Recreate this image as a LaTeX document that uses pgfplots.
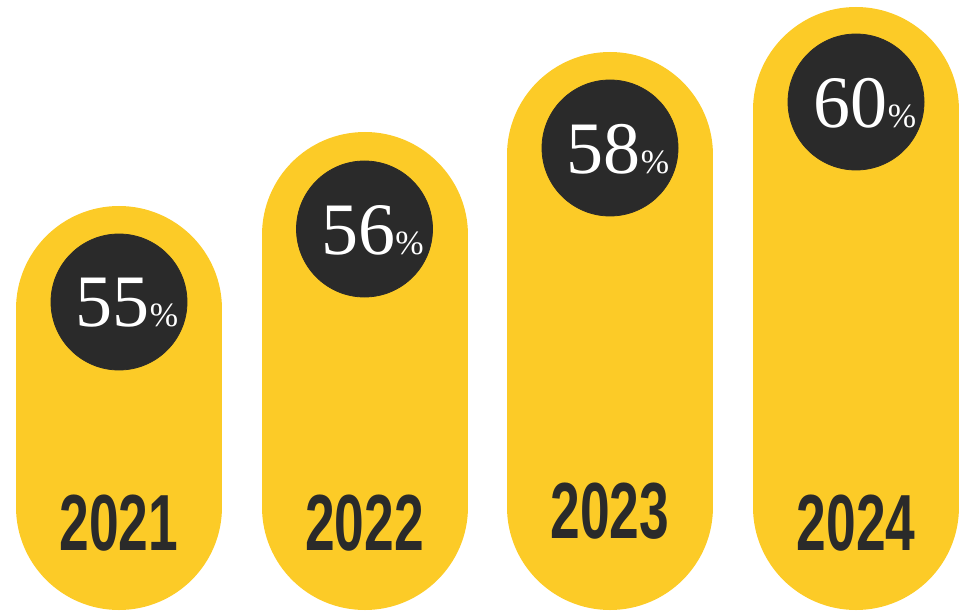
\documentclass[border=0pt]{standalone}
\usepackage{pgfplots}
\pgfplotsset{compat=1.18}
\usepackage{fontspec}
\setmainfont{Liberation Serif}
\newfontfamily\yearfont{Liberation Sans}
\definecolor{baryellow}{RGB}{252,203,39}
\definecolor{darkdisc}{RGB}{42,42,42}

% 1 px of the reference = 0.5pt
\newcommand{\pctlabel}[1]{{\fontsize{37}{37}\selectfont #1}{\fontsize{17}{17}\selectfont\%}}
\newcommand{\yearlabel}[1]{\scalebox{0.67}[1]{\yearfont\bfseries\fontsize{39.8}{40}\selectfont #1}}

\begin{document}
\begin{tikzpicture}
\begin{axis}[
    scale only axis,
    width=480.5pt, height=305.5pt,
    xmin=0, xmax=961, ymin=0, ymax=611,
    hide axis,
    clip=false,
]
\path (axis cs:0,0) rectangle (axis cs:961,611);

% stadium bars: round-capped thick strokes, radius 103 px
\addplot[baryellow, line width=103pt, line cap=round] coordinates {(119,104) (119,302)};
\addplot[baryellow, line width=103pt, line cap=round] coordinates {(364.5,104) (364.5,376)};
\addplot[baryellow, line width=103pt, line cap=round] coordinates {(610,104) (610,456)};
\addplot[baryellow, line width=103pt, line cap=round] coordinates {(856,104) (856,501)};

% dark discs
\addplot[only marks, mark=*, mark size=34pt, darkdisc] coordinates {
    (119,309) (364.5,382) (610,463) (856,509)
};

% percentage labels
\addplot[only marks, mark=none,
    nodes near coords={\pctlabel{\pgfplotspointmeta}},
    point meta=explicit symbolic,
    every node near coord/.append style={anchor=center, inner sep=0pt, text=white, yshift=-1pt},
] coordinates {
    (127,310) [55]
    (372.5,383) [56]
    (618,464) [58]
    (865,510) [60]
};

% year labels
\addplot[only marks, mark=none,
    nodes near coords={\yearlabel{\pgfplotspointmeta}},
    point meta=explicit symbolic,
    every node near coord/.append style={anchor=center, inner sep=0pt, text=darkdisc},
] coordinates {
    (119,88) [2021]
    (364.5,88) [2022]
    (610,100) [2023]
    (856,88) [2024]
};
\end{axis}
\end{tikzpicture}
\end{document}
